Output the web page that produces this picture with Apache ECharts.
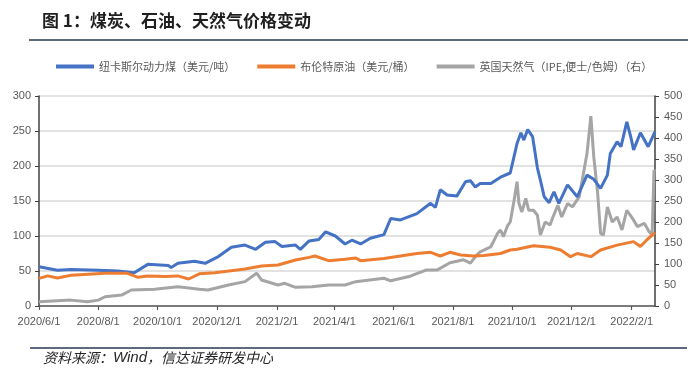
<!DOCTYPE html>
<html>
<head>
<meta charset="utf-8">
<script src="https://cdn.jsdelivr.net/npm/echarts@6/dist/echarts.min.js"></script>
<style>
html,body{margin:0;padding:0;background:#fff;}
#main{width:700px;height:369px;}
</style>
</head>
<body>
<div id="main"></div>
<script>
// ---- Data ----
const coalDates = ['2020-06-01','2020-06-20','2020-07-04','2020-08-01','2020-08-21','2020-09-07','2020-09-21','2020-10-12','2020-10-15','2020-10-22','2020-11-08','2020-11-19','2020-12-03','2020-12-16','2020-12-30','2021-01-10','2021-01-20','2021-01-30','2021-02-06','2021-02-20','2021-02-25','2021-03-06','2021-03-16','2021-03-23','2021-04-02','2021-04-12','2021-04-19','2021-04-28','2021-05-08','2021-05-22','2021-05-29','2021-06-08','2021-06-25','2021-07-09','2021-07-14','2021-07-19','2021-07-26','2021-08-05','2021-08-14','2021-08-19','2021-08-24','2021-08-29','2021-09-09','2021-09-19','2021-09-29','2021-10-06','2021-10-10','2021-10-13','2021-10-17','2021-10-22','2021-10-27','2021-10-30','2021-11-03','2021-11-08','2021-11-13','2021-11-18','2021-11-27','2021-12-07','2021-12-17','2021-12-24','2021-12-31','2022-01-07','2022-01-10','2022-01-17','2022-01-21','2022-01-27','2022-01-31','2022-02-03','2022-02-10','2022-02-18','2022-02-25'];
const coalValues = [56,51,52,51,50,47.6,59.5,58,55,61,64,61,71,84,87,81,91,92,85,87,81,93,95,106,100,88.6,94,88.6,96.7,102,125,123,132,146.7,141,166,158.6,157,177.6,179,170,175,175,184,190,232,247.6,237,252,242,197,180,156,147.6,163,146.7,173,156,187,181,168,187,218,234.7,227.6,263,242,223,247.6,227.6,249];

const oilDates = ['2020-06-01','2020-06-10','2020-06-20','2020-07-04','2020-08-08','2020-08-31','2020-09-11','2020-09-21','2020-10-09','2020-10-22','2020-11-02','2020-11-13','2020-11-29','2020-12-30','2021-01-16','2021-02-02','2021-02-20','2021-03-06','2021-03-12','2021-03-26','2021-04-12','2021-04-23','2021-04-28','2021-05-22','2021-06-25','2021-07-09','2021-07-19','2021-07-29','2021-08-09','2021-08-22','2021-09-02','2021-09-19','2021-09-29','2021-10-06','2021-10-23','2021-11-09','2021-11-20','2021-11-30','2021-12-07','2021-12-21','2021-12-31','2022-01-17','2022-02-03','2022-02-10','2022-02-17','2022-02-25'];
const oilValues = [39.5,43,40,44,46.7,46.7,41,43,42,43,38.6,46,47.6,53,57,58.6,65.7,69.5,71.4,64.8,66.7,68.6,64.8,68,75,76.7,71.4,76.7,72.9,71.4,72,75,80,81,86,84,80,70.5,75,70.5,80,87,92,85,95,104.7];

const gasDates = ['2020-06-01','2020-07-04','2020-07-21','2020-08-01','2020-08-08','2020-08-25','2020-09-04','2020-09-28','2020-10-22','2020-11-13','2020-11-22','2020-12-13','2020-12-30','2021-01-11','2021-01-16','2021-02-02','2021-02-09','2021-02-20','2021-03-09','2021-03-26','2021-04-12','2021-04-23','2021-05-01','2021-05-22','2021-05-29','2021-06-18','2021-07-05','2021-07-16','2021-07-29','2021-08-12','2021-08-19','2021-08-24','2021-08-29','2021-09-09','2021-09-16','2021-09-19','2021-09-22','2021-09-26','2021-09-29','2021-10-03','2021-10-06','2021-10-08','2021-10-11','2021-10-15','2021-10-18','2021-10-23','2021-10-27','2021-10-30','2021-11-04','2021-11-09','2021-11-12','2021-11-17','2021-11-21','2021-11-27','2021-12-02','2021-12-09','2021-12-14','2021-12-17','2021-12-21','2021-12-24','2021-12-28','2021-12-31','2022-01-03','2022-01-07','2022-01-12','2022-01-17','2022-01-22','2022-01-27','2022-02-02','2022-02-07','2022-02-14','2022-02-19','2022-02-22','2022-02-24','2022-02-25'];
const gasValues = [10,14,10,14,22,26,38,40,46,40,38,50,58,78,62,50,54,44.5,46,50,50,58,60,66,60,71,86,86,103,110,102,117,129,141,173,181,165,190,200,252,296,244,224,256,228,228,216,169,200,193,212,240,212,244,236,260,324,363,452,355,268,173,169,236,200,212,181,228,208,189,197,177,169,324,320];

const xTickLabels = ['2020/6/1','2020/8/1','2020/10/1','2020/12/1','2021/2/1','2021/4/1','2021/6/1','2021/8/1','2021/10/1','2021/12/1','2022/2/1'];

const seriesNames = ['纽卡斯尔动力煤（美元/吨）','布伦特原油（美元/桶）','英国天然气（IPE,便士/色姆）（右）'];

// ---- helpers ----
function ts(s){ const p = s.split(/[-\/]/).map(Number); return Date.UTC(p[0], p[1]-1, p[2]); }
function pairs(dates, vals){ return dates.map((d,i)=>[ts(d), vals[i]]); }
const tickValues = xTickLabels.map(ts);
const labelMap = {};
xTickLabels.forEach(l => { labelMap[ts(l)] = l; });

const FONT = '"Liberation Sans", Arial, "Noto Sans CJK SC", sans-serif';
const chart = echarts.init(document.getElementById('main'), null, {renderer:'canvas'});

const option = {
  backgroundColor: '#ffffff',
  animation: false,
  textStyle: { fontFamily: FONT },
  legend: {
    data: seriesNames,
    left: 51,
    top: 56,
    icon: 'rect',
    itemWidth: 38,
    itemHeight: 4,
    itemGap: 22,
    textStyle: { fontSize: 11, color: '#595959', fontFamily: '"Noto Sans CJK SC", sans-serif' }
  },
  grid: { left: 39, right: 45, top: 96, bottom: 63, containLabel: false },
  xAxis: {
    type: 'value',
    min: ts('2020-06-01'),
    max: ts('2022-02-25'),
    axisLine: { show: true, onZero: false, lineStyle: { color: '#595959', width: 1.5 } },
    axisTick: { show: true, customValues: tickValues, length: 4, lineStyle: { color: '#595959', width: 1.2 } },
    splitLine: { show: false },
    axisLabel: {
      customValues: tickValues,
      color: '#595959',
      fontSize: 11,
      margin: 10,
      hideOverlap: false,
      showMinLabel: true,
      showMaxLabel: true,
      formatter: function(v){ return labelMap[v] !== undefined ? labelMap[v] : ''; }
    }
  },
  yAxis: [
    {
      type: 'value', min: 0, max: 300, interval: 50, position: 'left',
      axisLine: { show: true, lineStyle: { color: '#404040', width: 1.5 } },
      axisTick: { show: true, inside: false, length: 4, lineStyle: { color: '#404040' } },
      axisLabel: { color: '#595959', fontSize: 11, margin: 8 },
      splitLine: { show: true, lineStyle: { color: '#d9d9d9', width: 1.5 } }
    },
    {
      type: 'value', min: 0, max: 500, interval: 50, position: 'right',
      axisLine: { show: true, lineStyle: { color: '#404040', width: 1.5 } },
      axisTick: { show: true, inside: false, length: 4, lineStyle: { color: '#404040' } },
      axisLabel: { color: '#595959', fontSize: 11, margin: 9 },
      splitLine: { show: false }
    }
  ],
  series: [
    { name: seriesNames[0], type: 'line', yAxisIndex: 0, data: pairs(coalDates, coalValues), showSymbol: false, symbol: 'none',
      lineStyle: { color: '#4472C4', width: 3 }, itemStyle: { color: '#4472C4' }, z: 3 },
    { name: seriesNames[1], type: 'line', yAxisIndex: 0, data: pairs(oilDates, oilValues), showSymbol: false, symbol: 'none',
      lineStyle: { color: '#ED7D31', width: 3 }, itemStyle: { color: '#ED7D31' }, z: 4 },
    { name: seriesNames[2], type: 'line', yAxisIndex: 1, data: pairs(gasDates, gasValues), showSymbol: false, symbol: 'none',
      lineStyle: { color: '#A5A5A5', width: 3 }, itemStyle: { color: '#A5A5A5' }, z: 2 }
  ],
  graphic: [
    { type: 'text', left: 42, top: 12,
      style: { text: '图 1：煤炭、石油、天然气价格变动', fontSize: 17, fontWeight: 'bold', fill: '#1f1f1f',
               fontFamily: '"Noto Sans CJK SC", sans-serif' } },
    { type: 'line', shape: { x1: 29, y1: 40, x2: 688, y2: 40 }, style: { stroke: '#5b6b7c', lineWidth: 2 } },
    { type: 'line', shape: { x1: 30, y1: 348, x2: 687, y2: 348 }, style: { stroke: '#5b6b7c', lineWidth: 2 } },
    { type: 'text', left: 43, top: 350,
      style: {
        text: '{a|资料来源：}{b|Wind}{a|，信达证券研发中心}',
        rich: {
          a: { fontSize: 14, fill: '#262626', fontStyle: 'italic', fontFamily: '"Noto Sans CJK SC", sans-serif' },
          b: { fontSize: 15, fill: '#262626', fontStyle: 'italic', fontFamily: '"Liberation Sans", Arial, sans-serif' }
        }
      } }
  ]
};
chart.setOption(option);
</script>
</body>
</html>
